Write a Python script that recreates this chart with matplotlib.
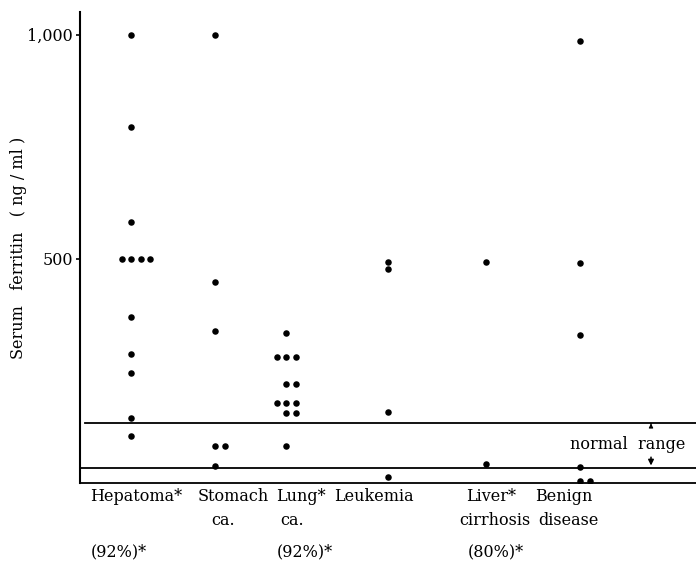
import matplotlib
matplotlib.use("Agg")
import matplotlib.pyplot as plt
import numpy as np

plt.rcParams['font.family'] = ['DejaVu Serif', 'Liberation Serif']

# Serum ferritin values (ng/ml), one list per group
hepatoma = [1000, 795, 583, 500, 500, 500, 500, 371, 288, 246, 145, 105]
stomach = [1000, 449, 339, 83, 83, 38]
lung = [335, 281, 281, 281, 221, 221, 179, 179, 179, 156, 156, 83]
leukemia = [493, 478, 158, 13]
liver = [493, 42]
benign = [987, 491, 330, 36, 4, 4]

groups = [hepatoma, stomach, lung, leukemia, liver, benign]
normal_low = 33
normal_high = 134

# group labels, one list per text row under the axis
row1 = ["Hepatoma*", "Stomach", "Lung*", "Leukemia", "Liver*", "Benign"]
row2 = ["", "ca.", "ca.", "", "cirrhosis", "disease"]
row3 = ["(92%)*", "", "(92%)*", "", "(80%)*", ""]

# layout: column centres and label centres (x in pixels from the y axis)
col_x = [51, 135, 206, 308, 406, 500]
row1_x = [56, 153, 221, 294, 411, 484]
row2_x = [0, 143, 212, 0, 415, 488]
row3_x = [39, 0, 225, 0, 416, 0]
slot = 9.5

fig = plt.figure(figsize=(6.96, 5.67), dpi=100)
ax = fig.add_axes([0.115, 0.148, 0.885, 0.831])

for cx, vals in zip(col_x, groups):
    vals = np.array(vals)
    xs = np.zeros(len(vals))
    for v in np.unique(vals):
        idx = np.where(vals == v)[0]
        n = len(idx)
        start = -1 if n >= 3 else 0
        for k, i in enumerate(idx):
            xs[i] = cx + (start + k) * slot
    ax.scatter(xs, vals, s=22, color="black", zorder=3, linewidths=0)

# normal range lines
ax.plot([5, 616], [normal_high, normal_high], color="black", lw=1.3)
ax.plot([0, 616], [normal_low, normal_low], color="black", lw=1.3)

ax.text(605, 85, "normal  range", ha="right", va="center", fontsize=11.5)
ax.annotate("", xy=(571, normal_low), xytext=(571, 64),
            arrowprops=dict(arrowstyle="-|>", color="black", lw=1.1, mutation_scale=8))
ax.annotate("", xy=(571, normal_high - 1), xytext=(571, normal_high - 8),
            arrowprops=dict(arrowstyle="-|>", color="black", lw=0.8, mutation_scale=6))

ax.set_xlim(0, 616)
ax.set_ylim(0, 1051)
ax.set_yticks([500, 1000])
ax.set_yticklabels(["500", "1,000"], fontsize=11.5)
ax.set_xticks([])
ax.tick_params(axis="y", length=3, width=1.2, pad=2)
ax.spines["top"].set_visible(False)
ax.spines["right"].set_visible(False)
ax.spines["left"].set_linewidth(1.5)
ax.spines["bottom"].set_linewidth(1.3)

ax.set_ylabel("Serum   ferritin   ( ng / ml )", fontsize=11.5, labelpad=0)

for rows, xs_, dy in [(row1, row1_x, -5), (row2, row2_x, -29), (row3, row3_x, -60)]:
    for lx, t in zip(xs_, rows):
        if t:
            ax.annotate(t, xy=(lx, 0), xycoords=("data", "axes fraction"),
                        xytext=(0, dy), textcoords="offset pixels",
                        ha="center", va="top", fontsize=11.5)

fig.savefig("out.png", dpi=100)
